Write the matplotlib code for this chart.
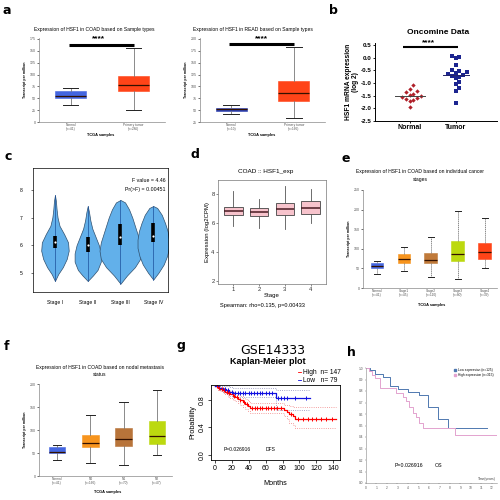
import numpy as np
import matplotlib
matplotlib.use("Agg")
import matplotlib.pyplot as plt

plt.rcParams['font.family'] = ['Liberation Sans', 'DejaVu Sans']

W, H = 500, 500

# ---- a: HSF1 TPM by sample type (COAD left, READ right)
a_labels = ["Normal\n(n=41)", "Primary tumor\n(n=286)"]
a_read_labels = ["Normal\n(n=10)", "Primary tumor\n(n=166)"]
coad_lo = [35, 25]
coad_q1 = [50, 65]
coad_med = [55, 77]
coad_q3 = [65, 96]
coad_hi = [71, 156]
read_lo = [42, 33]
read_q1 = [49, 70]
read_med = [52, 86]
read_q3 = [55.5, 112]
read_hi = [61, 182]
a_colors = ["#4466e0", "#ff4418"]

# ---- b: Oncomine
onc_normal = [-1.08, -1.25, -1.33, -1.36, -1.43, -1.48, -1.52, -1.55, -1.6,
              -1.62, -1.67, -1.7, -1.95]
onc_tumor = [0.06, 0.01, -0.02, -0.28, -0.47, -0.52, -0.55, -0.6, -0.66, -0.7,
             -0.72, -0.75, -0.8, -0.97, -1.05, -1.2, -1.33, -1.8]

# ---- c: violin profiles per stage (level, half width)
c_stages = ["Stage I", "Stage II", "Stage III", "Stage IV"]
c_lvl = [
    [7.82, 7.6, 7.3, 7.0, 6.7, 6.4, 6.1, 5.8, 5.5, 5.2, 4.95, 4.7],
    [7.42, 7.2, 6.9, 6.6, 6.3, 6.0, 5.7, 5.4, 5.1, 4.9, 4.7],
    [7.64, 7.55, 7.3, 7.0, 6.7, 6.4, 6.1, 5.8, 5.5, 5.2, 4.9, 4.6],
    [7.42, 7.35, 7.1, 6.8, 6.5, 6.2, 5.9, 5.6, 5.3, 5.0, 4.75],
]
c_half = [
    [0.0, 0.03, 0.05, 0.08, 0.14, 0.28, 0.4, 0.42, 0.36, 0.24, 0.1, 0.0],
    [0.0, 0.04, 0.08, 0.14, 0.24, 0.34, 0.4, 0.4, 0.3, 0.16, 0.0],
    [0.0, 0.14, 0.26, 0.36, 0.44, 0.52, 0.6, 0.64, 0.6, 0.44, 0.2, 0.0],
    [0.0, 0.12, 0.26, 0.36, 0.44, 0.48, 0.48, 0.42, 0.32, 0.16, 0.0],
]
c_q1 = [5.9, 5.75, 6.0, 6.1]
c_q3 = [6.35, 6.3, 6.75, 6.8]
c_med = [6.1, 6.0, 6.28, 6.34]

# ---- d: COAD :: HSF1_exp by stage (log2CPM)
d_lo = [5.81, 5.66, 5.59, 6.04]
d_q1 = [6.55, 6.5, 6.57, 6.67]
d_med = [6.85, 6.78, 6.97, 7.08]
d_q3 = [7.15, 7.08, 7.43, 7.54]
d_hi = [8.23, 7.66, 8.57, 8.39]

# ---- e: by individual cancer stage
e_labels = ["Normal\n(n=41)", "Stage1\n(n=45)", "Stage2\n(n=110)", "Stage3\n(n=80)", "Stage4\n(n=39)"]
e_lo = [35, 44, 29, 23, 50]
e_q1 = [50, 63, 63, 70, 74]
e_med = [56, 74, 72, 86, 91]
e_q3 = [63, 86, 89, 120, 116]
e_hi = [70, 104, 131, 197, 179]
e_colors = ["#4466e0", "#f7941d", "#c07a3a", "#bcd90f", "#ff4418"]

# ---- f: by nodal metastasis status
f_labels = ["Normal\n(n=41)", "N0\n(n=166)", "N1\n(n=70)", "N2\n(n=47)"]
f_lo = [34, 29, 24, 46]
f_q1 = [50, 63, 66, 70]
f_med = [53.5, 72, 81.5, 88]
f_q3 = [64, 90, 105, 120]
f_hi = [68, 134, 162, 187]
f_colors = ["#4466e0", "#f7941d", "#b8743a", "#bcd90f"]

# ---- g: GSE14333 DFS Kaplan-Meier
g_hi_t = [0, 3, 6, 9, 12, 15, 18, 21, 24, 27, 30, 33, 36, 39, 42, 82, 85, 88, 92, 95, 143]
g_hi_s = [1.0, 0.98, 0.96, 0.94, 0.92, 0.9, 0.88, 0.86, 0.84, 0.82, 0.8, 0.77, 0.74,
          0.71, 0.68, 0.65, 0.62, 0.59, 0.56, 0.53, 0.53]
g_hi_up = [1.0, 1.0, 0.99, 0.98, 0.96, 0.95, 0.93, 0.91, 0.9, 0.88, 0.86, 0.83, 0.81,
           0.78, 0.75, 0.73, 0.72, 0.71, 0.7, 0.7, 0.7]
g_hi_lo = [1.0, 0.95, 0.93, 0.9, 0.88, 0.85, 0.83, 0.8, 0.78, 0.76, 0.73, 0.7, 0.67,
           0.64, 0.61, 0.57, 0.52, 0.47, 0.43, 0.39, 0.39]
g_hi_cens = [2, 5, 8, 11, 14, 17, 22, 26, 30, 34, 38, 44, 47, 50, 53, 56, 60, 63, 66,
             70, 74, 78, 90, 98, 104, 110, 115, 120, 126, 132, 138]
g_lo_t = [0, 5, 9, 13, 17, 21, 72, 112]
g_lo_s = [1.0, 0.98, 0.96, 0.94, 0.92, 0.9, 0.83, 0.83]
g_lo_up = [1.0, 1.0, 1.0, 1.0, 0.99, 0.975, 0.95, 0.95]
g_lo_lo = [1.0, 0.95, 0.92, 0.89, 0.86, 0.84, 0.66, 0.66]
g_lo_cens = [12, 16, 20, 24, 27, 30, 33, 36, 40, 43, 46, 50, 53, 56, 60, 64, 68, 75,
             78, 82, 85, 95, 108]

# ---- h: OS by expression (years)
h_low_t = [0, 0.4, 0.9, 1.65, 2.3, 3.05, 4.0, 5.1, 5.9, 6.86, 7.8, 11.5]
h_low_s = [1.0, 0.98, 0.95, 0.925, 0.84, 0.82, 0.79, 0.765, 0.66, 0.56, 0.475, 0.475]
h_high_t = [0, 0.3, 0.6, 0.86, 1.33, 2.9, 3.5, 3.8, 4.1, 4.5, 4.8, 5.1, 5.44, 8.48, 12.4]
h_high_s = [1.0, 0.97, 0.94, 0.91, 0.83, 0.78, 0.75, 0.71, 0.66, 0.61, 0.57, 0.52,
            0.48, 0.42, 0.42]

fig = plt.figure(figsize=(5, 5), dpi=100)


def px_axes(x0, y0, x1, y1):
    return fig.add_axes([x0 / W, 1 - y1 / H, (x1 - x0) / W, (y1 - y0) / H])


def ftext(x, y, s, **kw):
    kw.setdefault("ha", "center")
    kw.setdefault("va", "center")
    fig.text(x / W, 1 - y / H, s, **kw)


def boxes(ax, lo, q1, med, q3, hi, colors, width, wls="-"):
    st = [dict(whislo=a, q1=b, med=c, q3=d, whishi=e) for a, b, c, d, e in zip(lo, q1, med, q3, hi)]
    bp = ax.bxp(st, positions=range(1, len(st) + 1), widths=width, patch_artist=True,
                showfliers=False, medianprops=dict(color="#331100", lw=0.9),
                whiskerprops=dict(color="#777777", lw=0.6, ls=wls),
                capprops=dict(color="#222222", lw=0.7), boxprops=dict(lw=0.4))
    for p, c in zip(bp["boxes"], colors):
        p.set_facecolor(c)
        p.set_edgecolor(c)


def ualcan_style(ax, xlabels, ticks, ylim, xlim):
    ax.set_ylim(*ylim)
    ax.set_xlim(*xlim)
    ax.set_yticks(ticks)
    ax.set_xticks(range(1, len(xlabels) + 1))
    ax.set_xticklabels(xlabels, fontsize=2.3, color="#555555", linespacing=1.0)
    ax.tick_params(axis="y", labelsize=2.6, labelcolor="#555555", length=1.2, width=0.4, pad=1)
    ax.tick_params(axis="x", length=0, pad=1)
    for s in ["top", "right"]:
        ax.spines[s].set_visible(False)
    for s in ["left", "bottom"]:
        ax.spines[s].set_color("#888888")
        ax.spines[s].set_linewidth(0.5)
    ax.set_ylabel("Transcript per million", fontsize=2.6, fontweight="bold", labelpad=2)


# panel labels
for lab, x, y in [("a", 7, 10), ("b", 333, 11), ("c", 8, 157), ("d", 195, 155),
                  ("e", 346, 158), ("f", 6, 346), ("g", 181, 345), ("h", 351, 352)]:
    ftext(x, y, lab, fontsize=9, fontweight="bold", family="DejaVu Sans")

# ---------------- a
ax = px_axes(39, 38, 165, 122)
boxes(ax, coad_lo, coad_q1, coad_med, coad_q3, coad_hi, a_colors, 0.48)
ualcan_style(ax, a_labels, range(0, 176, 25), (0, 177), (0.5, 2.5))
ax.plot([0.97, 2.0], [162, 162], color="black", lw=2.2, solid_capstyle="butt")
ftext(94, 30, "Expression of HSF1 in COAD based on Sample types", fontsize=3.6)
ftext(98, 39, "****", fontsize=6, fontweight="bold")
ftext(101, 135, "TCGA samples", fontsize=2.8, fontweight="bold")

ax = px_axes(200, 38, 325, 122)
boxes(ax, read_lo, read_q1, read_med, read_q3, read_hi, ["#2c3fb0", "#ff4418"], 0.5)
ualcan_style(ax, a_read_labels, range(25, 201, 25), (25, 202), (0.5, 2.5))
ax.plot([0.97, 2.0], [190, 190], color="black", lw=2.2, solid_capstyle="butt")
ftext(253, 30, "Expression of HSF1 in READ based on Sample types", fontsize=3.6)
ftext(261, 39, "****", fontsize=6, fontweight="bold")
ftext(262, 135, "TCGA samples", fontsize=2.8, fontweight="bold")

# ---------------- b


def swarm(vals, step, tol):
    # place points side by side when their values are close
    order = np.argsort(vals)
    placed = []
    offs = np.zeros(len(vals))
    for i in order:
        v = vals[i]
        k = 0
        while True:
            cand = [0.0] if k == 0 else [k * step, -k * step]
            ok = None
            for c in cand:
                if all(abs(c - o) >= step * 0.99 or abs(v - pv) >= tol for pv, o in placed):
                    ok = c
                    break
            if ok is not None:
                break
            k += 1
        offs[i] = ok
        placed.append((v, ok))
    return offs


ax = px_axes(375, 43, 497, 121)
nv = np.array(onc_normal)
tv = np.array(onc_tumor)
ax.scatter(1 + swarm(nv, 0.085, 0.2), nv, marker="D", s=5, color="#b0202a", lw=0)
ax.scatter(2 + swarm(tv, 0.085, 0.2), tv, marker="s", s=6, color="#1c2590", lw=0)
ax.plot([0.68, 1.33], [np.median(nv)] * 2, color="#444444", lw=0.7)
ax.plot([1.72, 2.3], [np.median(tv)] * 2, color="#222266", lw=0.7)
ax.plot([0.85, 2.05], [0.42, 0.42], color="black", lw=1.5, solid_capstyle="butt")
ax.set_xlim(0.25, 2.9)
ax.set_ylim(-2.5, 0.58)
ax.set_yticks(np.arange(-2.5, 0.51, 0.5))
ax.set_yticklabels([f"{v:.1f}" for v in np.arange(-2.5, 0.51, 0.5)])
ax.set_xticks([1, 2])
ax.set_xticklabels(["Normal", "Tumor"], fontweight="bold", fontsize=5)
ax.tick_params(axis="y", labelsize=4.5, length=1.5, width=0.6, pad=1)
ax.tick_params(axis="x", length=1.5, width=0.6, pad=1)
for lbl in ax.get_yticklabels():
    lbl.set_fontweight("bold")
for s in ["top", "right"]:
    ax.spines[s].set_visible(False)
for s in ["left", "bottom"]:
    ax.spines[s].set_linewidth(0.7)
ax.set_ylabel("HSF1 mRNA expression\n(log 2)", fontsize=4.8, fontweight="bold", labelpad=1,
              linespacing=1.0)
ftext(438, 32, "Oncomine Data", fontsize=6, fontweight="bold")
ftext(428, 43, "****", fontsize=6, fontweight="bold")

# ---------------- c
ax = px_axes(33, 168, 168, 292)
for i in range(4):
    c = i + 1
    lv = np.array(c_lvl[i])
    hw = np.array(c_half[i])
    ax.fill_betweenx(lv, c - hw, c + hw, facecolor="#62b0ea", edgecolor="#30506e", lw=0.5)
    ax.plot([c, c], [lv.min(), lv.max()], color="#1b4f9a", lw=0.5)
    ax.plot([c, c], [c_q1[i], c_q3[i]], color="black", lw=2.6, solid_capstyle="butt")
    ax.plot([c], [c_med[i]], marker="o", ms=1.6, color="white", mec="none")
ax.set_xlim(0.33, 4.45)
ax.set_ylim(4.3, 8.8)
ax.set_yticks([5, 6, 7, 8])
ax.set_xticks([1, 2, 3, 4])
ax.set_xticklabels(c_stages, fontsize=3.6)
ax.tick_params(axis="y", labelsize=3.6, length=1.5, width=0.4, pad=6)
ax.tick_params(axis="x", length=0, pad=6)
for s in ax.spines.values():
    s.set_linewidth(0.5)
ax.text(0.985, 0.9, "F value = 4.46", transform=ax.transAxes, ha="right", va="center", fontsize=3.8)
ax.text(0.985, 0.83, "Pr(>F) = 0.00451", transform=ax.transAxes, ha="right", va="center", fontsize=3.8)

# ---------------- d
ax = px_axes(218, 180, 326, 284)
st = [dict(whislo=a, q1=b, med=c, q3=d, whishi=e) for a, b, c, d, e in zip(d_lo, d_q1, d_med, d_q3, d_hi)]
bp = ax.bxp(st, positions=[1, 2, 3, 4], widths=0.72, patch_artist=True, showfliers=False,
            showcaps=False, medianprops=dict(color="#4a1a22", lw=1.1),
            whiskerprops=dict(color="#555555", lw=0.6), boxprops=dict(lw=0.6, edgecolor="#444444",
                                                                       facecolor="#f7c3cc"))
ax.set_xlim(0.4, 4.6)
ax.set_ylim(1.8, 9.0)
ax.set_yticks([2, 4, 6, 8])
ax.set_xticks([1, 2, 3, 4])
ax.tick_params(labelsize=4.2, length=1.5, width=0.4, pad=1, colors="#333333")
for s in ax.spines.values():
    s.set_color("#777777")
    s.set_linewidth(0.5)
ax.set_ylabel("Expression (log2CPM)", fontsize=4.3, labelpad=1)
ftext(266, 172, "COAD :: HSF1_exp", fontsize=4.6)
ftext(272, 296, "Stage", fontsize=4.3)
ftext(262, 305, "Spearman: rho=0.135, p=0.00433", fontsize=4.1)

# ---------------- e
ax = px_axes(363, 190, 497, 288)
boxes(ax, e_lo, e_q1, e_med, e_q3, e_hi, e_colors, 0.48, wls=(0, (1.5, 0.8)))
ualcan_style(ax, e_labels, range(0, 251, 50), (0, 250), (0.48, 5.45))
ftext(420, 172, "Expression of HSF1 in COAD based on individual cancer", fontsize=3.6)
ftext(420, 179, "stages", fontsize=3.6)
ftext(432, 305, "TCGA samples", fontsize=2.8, fontweight="bold")

# ---------------- f
ax = px_axes(39, 384, 172, 476)
boxes(ax, f_lo, f_q1, f_med, f_q3, f_hi, f_colors, 0.5)
ualcan_style(ax, f_labels, range(0, 201, 50), (0, 201), (0.46, 4.45))
ftext(100, 368, "Expression of HSF1 in COAD based on nodal metastasis", fontsize=3.6)
ftext(100, 375, "status", fontsize=3.6)
ftext(108, 492, "TCGA samples", fontsize=2.8, fontweight="bold")

# ---------------- g


def step_at(t, s, x):
    idx = np.searchsorted(np.array(t), x, side="right") - 1
    return np.array(s)[idx]


ax = px_axes(211, 385, 340, 460)
ax.step(g_hi_t, g_hi_up, where="post", color="#f08080", lw=0.6, ls=":")
ax.step(g_hi_t, g_hi_lo, where="post", color="#f08080", lw=0.6, ls=":")
ax.step(g_lo_t, g_lo_up, where="post", color="#8a8ab8", lw=0.6, ls=":")
ax.step(g_lo_t, g_lo_lo, where="post", color="#8a8ab8", lw=0.6, ls=":")
ax.step(g_hi_t, g_hi_s, where="post", color="red", lw=0.9)
ax.step(g_lo_t, g_lo_s, where="post", color="#1010e0", lw=0.9)
ax.plot(g_hi_cens, step_at(g_hi_t, g_hi_s, g_hi_cens), ls="none", marker="|", ms=3.5,
        mew=0.7, color="red")
ax.plot(g_lo_cens, step_at(g_lo_t, g_lo_s, g_lo_cens), ls="none", marker="|", ms=3.5,
        mew=0.7, color="#1010e0")
ax.set_xlim(-4.7, 148)
ax.set_ylim(-0.073, 1.018)
ax.set_xticks(range(0, 141, 20))
ax.set_yticks([0.0, 0.4, 0.8])
ax.set_yticklabels(["0.0", "0.4", "0.8"], rotation=90, va="center")
ax.tick_params(labelsize=5, length=2, width=0.5, pad=1.5)
for s in ax.spines.values():
    s.set_linewidth(0.6)
ax.set_ylabel("Probability", fontsize=5.2, labelpad=2)
ax.set_xlabel("Months", fontsize=5.2, labelpad=6)
ax.text(10, 0.04, "P=0.026916", fontsize=3.6, va="bottom")
ax.text(60, 0.04, "DFS", fontsize=3.6, va="bottom")
ftext(273, 350, "GSE14333", fontsize=9, family="DejaVu Sans")
ftext(268, 362, "Kaplan-Meier plot", fontsize=6.5, fontweight="bold")
ftext(303, 372, "High  n= 147", fontsize=4.8, ha="left")
ftext(303, 380, "Low   n= 79", fontsize=4.8, ha="left")
fig.add_artist(plt.Line2D([298 / W, 301 / W], [1 - 372 / H] * 2, color="red", lw=0.6))
fig.add_artist(plt.Line2D([298 / W, 301 / W], [1 - 380 / H] * 2, color="#1010e0", lw=0.6))

# ---------------- h
ax = px_axes(366, 368, 497, 483)
ax.step(h_low_t, h_low_s, where="post", color="#4f78b0", lw=0.7)
ax.step(h_high_t, h_high_s, where="post", color="#e3a3cf", lw=0.7)
ax.set_xlim(0, 12.5)
ax.set_ylim(0, 1.0)
ax.set_xticks(range(0, 13))
ax.set_yticks(np.round(np.arange(0, 1.01, 0.1), 1))
ax.tick_params(labelsize=2.3, length=1, width=0.3, pad=1, colors="#555555")
for s in ["top", "right"]:
    ax.spines[s].set_visible(False)
for s in ["left", "bottom"]:
    ax.spines[s].set_color("#888888")
    ax.spines[s].set_linewidth(0.4)
ax.text(12.4, 0.02, "Time(years)", fontsize=2.4, ha="right", va="bottom", color="#444444")
ax.text(2.7, 0.15, "P=0.026916", fontsize=3.8, va="center")
ax.text(6.6, 0.15, "OS", fontsize=3.8, va="center")
ax.plot([8.5], [0.98], marker="s", ms=2, color="#4f78b0", ls="none")
ax.plot([8.5], [0.94], marker="s", ms=2, color="#e3a3cf", ls="none")
ax.text(8.8, 0.98, "Low expression (n=125)", fontsize=2.3, va="center")
ax.text(8.8, 0.94, "High expression (n=315)", fontsize=2.3, va="center")

fig.savefig("out.png", dpi=100)
